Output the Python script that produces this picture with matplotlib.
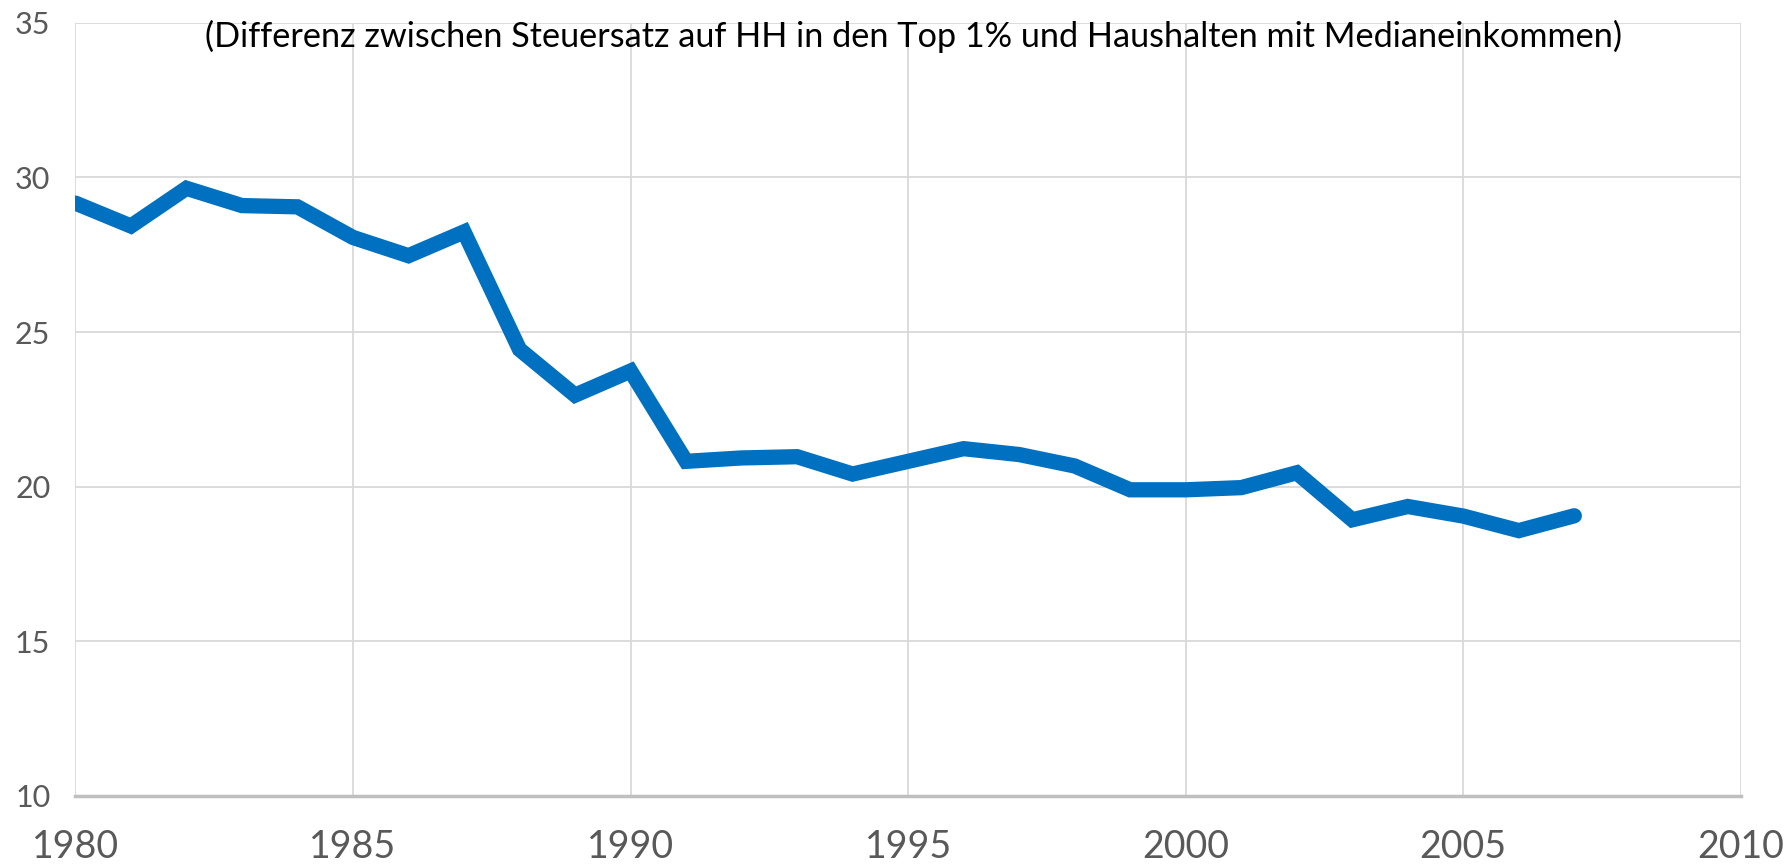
import matplotlib
matplotlib.use('Agg')  # headless
import matplotlib.pyplot as plt

# Differenz Steuersatz Top 1% vs. Medianeinkommen (Prozentpunkte)
years = list(range(1980, 2008))
diff = [29.17, 28.43, 29.65, 29.09, 29.05, 28.06, 27.47, 28.24, 24.44, 22.96,
        23.74, 20.82, 20.93, 20.97, 20.41, 20.82, 21.23, 21.04, 20.67, 19.90,
        19.90, 19.97, 20.45, 18.93, 19.36, 19.05, 18.58, 19.06]
x_ticks = [1980, 1985, 1990, 1995, 2000, 2005, 2010]
y_ticks = [10, 15, 20, 25, 30, 35]
title = "(Differenz zwischen Steuersatz auf HH in den Top 1% und Haushalten mit Medianeinkommen)"

plt.rcParams['font.family'] = ['Lato', 'DejaVu Sans']

fig = plt.figure(figsize=(17.91, 8.68), dpi=100)
ax = fig.add_axes([0.0421, 0.083, 0.9299, 0.8907])

ax.plot(years, diff, color='#0070C0', lw=11, solid_capstyle='round',
        solid_joinstyle='miter', zorder=3)

ax.set_xlim(1980, 2010)
ax.set_ylim(10, 35)
ax.set_xticks(x_ticks)
ax.set_yticks(y_ticks)
ax.grid(True, color='#D9D9D9', lw=1.3)
ax.set_axisbelow(True)
for s in ['top', 'right', 'left']:
    ax.spines[s].set_visible(False)
ax.spines['bottom'].set_color('#BFBFBF')
ax.spines['bottom'].set_linewidth(2.5)

ax.tick_params(length=0)
ax.tick_params(axis='x', labelsize=27, labelcolor='#595959', pad=24)
ax.tick_params(axis='y', labelsize=22, labelcolor='#595959', pad=18)

ax.text(0.503, 0.982, title, transform=ax.transAxes, ha='center', va='center',
        fontsize=24.7, color='black')

fig.savefig('out.png', dpi=100)
plt.close(fig)
